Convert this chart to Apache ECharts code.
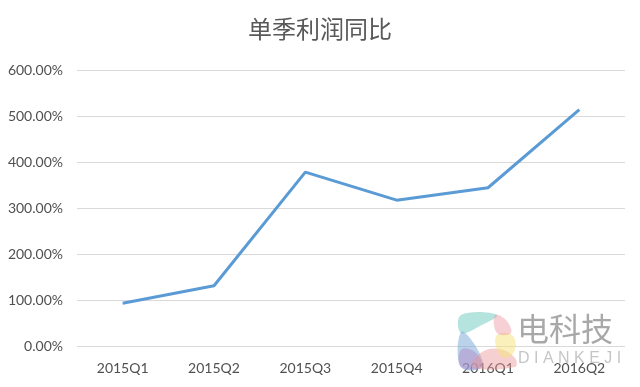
<!DOCTYPE html>
<html><head><meta charset="utf-8">
<script src="https://cdn.jsdelivr.net/npm/echarts@6/dist/echarts.min.js"></script>
<style>html,body{margin:0;padding:0;background:#fff}#c{width:640px;height:387px}</style>
</head><body><div id="c"></div>
<script>
const categories = ['2015Q1','2015Q2','2015Q3','2015Q4','2016Q1','2016Q2'];
const values = [93, 131, 378, 317, 344, 514];
const chart = echarts.init(document.getElementById('c'));
function poly(points, fill) {
  return { type: 'polygon', shape: { points: points, smooth: 0.4 }, style: { fill: fill }, z: 1 };
}
chart.setOption({
  animation: false,
  backgroundColor: '#fff',
  title: {
    text: '单季利润同比', left: 'center', top: 12,
    textStyle: { fontFamily: 'Noto Sans CJK SC', fontSize: 24, fontWeight: 'normal', color: '#595959' }
  },
  grid: { left: 77, right: 15, top: 70, bottom: 41 },
  xAxis: {
    type: 'category', data: categories, boundaryGap: true,
    axisLine: { show: false }, axisTick: { show: false },
    axisLabel: { color: '#505050', fontSize: 14, fontFamily: 'Lato', margin: 15 }
  },
  yAxis: {
    type: 'value', min: 0, max: 600, interval: 100,
    axisLine: { show: false }, axisTick: { show: false },
    splitLine: { lineStyle: { color: '#d9d9d9', width: 1 } },
    axisLabel: { color: '#505050', fontSize: 14, fontFamily: 'Lato', margin: 14,
      formatter: v => v.toFixed(2) + '%' }
  },
  series: [{
    type: 'line', data: values, symbol: 'none', z: 3,
    lineStyle: { color: '#5B9BD5', width: 3 }
  }],
  graphic: [
    poly([[461,315],[497,315],[480,326],[461,333]], 'rgba(120,205,195,0.55)'),
    poly([[461,332],[475,345],[482,367],[461,367]], 'rgba(120,165,215,0.5)'),
    poly([[461,350],[475,352],[482,367],[461,367]], 'rgba(175,140,200,0.5)'),
    poly([[472,367],[482,352],[500,349],[515,358],[515,367]], 'rgba(235,150,150,0.45)'),
    poly([[497,335],[512,335],[515,350],[505,358],[497,350]], 'rgba(245,225,120,0.5)'),
    poly([[495,315],[506,320],[511,333],[497,333]], 'rgba(235,150,160,0.45)'),
    { type: 'text', left: 517, top: 313, z: 2, style: { text: '电科技', fontSize: 32, fontFamily: 'Noto Sans CJK SC', fill: 'rgba(110,110,110,0.6)' } },
    { type: 'text', left: 518, top: 351, z: 2, style: { text: 'D I A N K E J I', fontSize: 16, fontFamily: 'Liberation Sans', fill: 'rgba(150,150,150,0.55)' } }
  ]
});
</script></body></html>
